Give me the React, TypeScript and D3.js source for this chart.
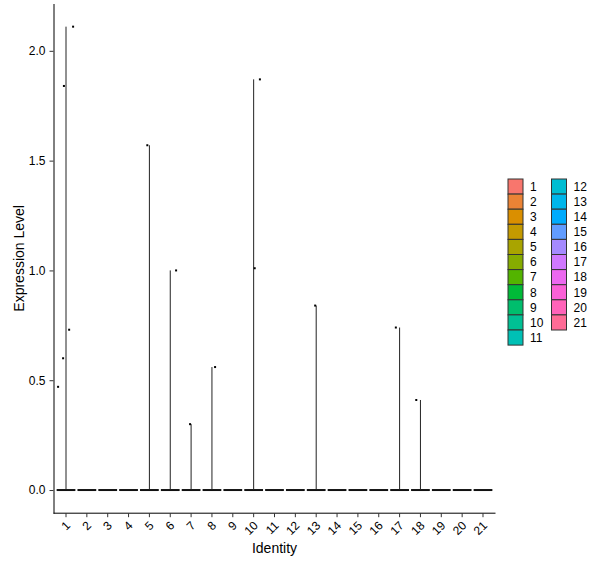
import { useEffect, useRef } from "react";
import * as d3 from "d3";

// cluster identities on the x axis
const clusters = ["1", "2", "3", "4", "5", "6", "7", "8", "9", "10", "11",
  "12", "13", "14", "15", "16", "17", "18", "19", "20", "21"];

// non-zero expression values per cluster (everything else sits at 0)
const expressedCluster = ["1", "1", "1", "1", "1", "5", "6", "7", "8", "10", "10", "13", "17", "18"];
const expressedValue = [0.47, 0.60, 0.73, 1.84, 2.11, 1.57, 1.0, 0.30, 0.56, 1.87, 1.01, 0.84, 0.74, 0.41];
// horizontal jitter of those points, as a fraction of the band
const expressedJitter = [-0.38, -0.14, 0.15, -0.1, 0.34, -0.1, 0.28, -0.05, 0.15, 0.3, 0.05, -0.05, -0.18, -0.2];

const yTicks = [0, 0.5, 1.0, 1.5, 2.0];

const W = 600;
const H = 568;
const panel = { left: 53.5, right: 495.5, top: 3.5, bottom: 513.2 };

// R's hcl() (polar CIE-Luv, D65) -> hex, as used by ggplot's hue palette
function hclLuv(h: number, c: number, l: number): string {
  const Xn = 95.047, Yn = 100, Zn = 108.883;
  const un = (4 * Xn) / (Xn + 15 * Yn + 3 * Zn);
  const vn = (9 * Yn) / (Xn + 15 * Yn + 3 * Zn);
  const hr = (h * Math.PI) / 180;
  const U = c * Math.cos(hr);
  const V = c * Math.sin(hr);
  const Y = Yn * (l > 8 ? Math.pow((l + 16) / 116, 3) : l / 903.3);
  const up = U / (13 * l) + un;
  const vp = V / (13 * l) + vn;
  const X = (9 * Y * up) / (4 * vp);
  const Z = -X / 3 - 5 * Y + (3 * Y) / vp;
  const x = X / 100, y = Y / 100, z = Z / 100;
  const lin = [
    3.240479 * x - 1.53715 * y - 0.498535 * z,
    -0.969256 * x + 1.875992 * y + 0.041556 * z,
    0.055648 * x - 0.204043 * y + 1.057311 * z,
  ];
  const g = lin.map(v => {
    const s = v <= 0.0031308 ? 12.92 * v : 1.055 * Math.pow(v, 1 / 2.4) - 0.055;
    return Math.round(Math.max(0, Math.min(1, s)) * 255);
  });
  return d3.rgb(g[0], g[1], g[2]).formatHex();
}

const App = () => {
  const ref = useRef<SVGSVGElement>(null);

  useEffect(() => {
    if (!ref.current) return;
    const svg = d3.select(ref.current);
    svg.selectAll("*").remove();

    const font = "'Liberation Sans', Arial, sans-serif";
    const colors = clusters.map((_, i) => hclLuv(15 + (360 / clusters.length) * i, 100, 65));

    const yMax = d3.max(expressedValue)!;
    const pad = yMax * 0.05;

    // discrete scale with ggplot's 0.6 unit expansion on each side
    const step = (panel.right - panel.left) / (clusters.length - 1 + 1.2);
    const x = d3.scalePoint<string>()
      .domain(clusters)
      .range([panel.left + 0.6 * step, panel.right - 0.6 * step]);
    const cx = (c: string) => x(c)!;

    const y = d3.scaleLinear()
      .domain([-pad, yMax + pad])
      .range([panel.bottom, panel.top]);

    const g = svg.append("g");

    // violins: flat line at zero plus a hairline reaching the max value
    clusters.forEach((c, i) => {
      const vals = expressedValue.filter((_, j) => expressedCluster[j] === c);
      const half = step * 0.45;
      g.append("line")
        .attr("x1", cx(c) - half).attr("x2", cx(c) + half)
        .attr("y1", y(0)).attr("y2", y(0))
        .attr("stroke", "#111").attr("stroke-width", 2);
      if (vals.length) {
        g.append("line")
          .attr("x1", cx(c)).attr("x2", cx(c))
          .attr("y1", y(0)).attr("y2", y(d3.max(vals)!))
          .attr("stroke", "#222").attr("stroke-width", 1)
          .attr("fill", colors[i]);
      }
    });

    // jittered points
    g.selectAll("rect.pt")
      .data(expressedValue)
      .join("rect")
      .attr("class", "pt")
      .attr("x", (d, j) => cx(expressedCluster[j]) + expressedJitter[j] * step - 1)
      .attr("y", d => y(d) - 1)
      .attr("width", 2)
      .attr("height", 2)
      .attr("fill", "#000");

    // y axis
    const yAxis = svg.append("g")
      .attr("transform", `translate(${panel.left},0)`)
      .call(d3.axisLeft(y).tickValues(yTicks).tickFormat(d3.format(".1f")).tickSize(4).tickSizeOuter(0));
    yAxis.select(".domain").attr("stroke", "#000");
    yAxis.selectAll("line").attr("stroke", "#333");
    yAxis.selectAll("text")
      .attr("font-family", font).attr("font-size", 12).attr("fill", "#000").attr("dx", -1);

    // x axis
    const xAxis = svg.append("g")
      .attr("transform", `translate(0,${panel.bottom})`);
    xAxis.append("line")
      .attr("x1", panel.left).attr("x2", panel.right)
      .attr("stroke", "#000");
    clusters.forEach(c => {
      xAxis.append("line")
        .attr("x1", cx(c)).attr("x2", cx(c))
        .attr("y1", 0).attr("y2", 4)
        .attr("stroke", "#333");
      xAxis.append("text")
        .attr("transform", `translate(${cx(c) + 5},13) rotate(-45)`)
        .attr("text-anchor", "end")
        .attr("font-family", font).attr("font-size", 12).attr("fill", "#000")
        .text(c);
    });

    // axis titles
    svg.append("text")
      .attr("transform", `translate(24,${(panel.top + panel.bottom) / 2}) rotate(-90)`)
      .attr("text-anchor", "middle")
      .attr("font-family", font).attr("font-size", 14)
      .text("Expression Level");
    svg.append("text")
      .attr("x", (panel.left + panel.right) / 2)
      .attr("y", 553)
      .attr("text-anchor", "middle")
      .attr("font-family", font).attr("font-size", 14)
      .text("Identity");

    // legend, two columns
    const perCol = 11;
    const keyH = 15.1;
    const legend = svg.append("g");
    clusters.forEach((c, i) => {
      const col = Math.floor(i / perCol);
      const row = i % perCol;
      const kx = 508 + col * 43.5;
      const ky = 179 + row * keyH;
      legend.append("rect")
        .attr("x", kx).attr("y", ky)
        .attr("width", 15).attr("height", keyH)
        .attr("fill", colors[i])
        .attr("stroke", "#333").attr("stroke-width", 1);
      legend.append("text")
        .attr("x", kx + 22).attr("y", ky + keyH / 2)
        .attr("dy", "0.36em")
        .attr("font-family", font).attr("font-size", 12)
        .text(c);
    });
  }, []);

  return (
    <svg ref={ref} width={W} height={H}
      style={{ position: "absolute", left: 0, top: 0, background: "#fff" }} />
  );
};

export default App;
